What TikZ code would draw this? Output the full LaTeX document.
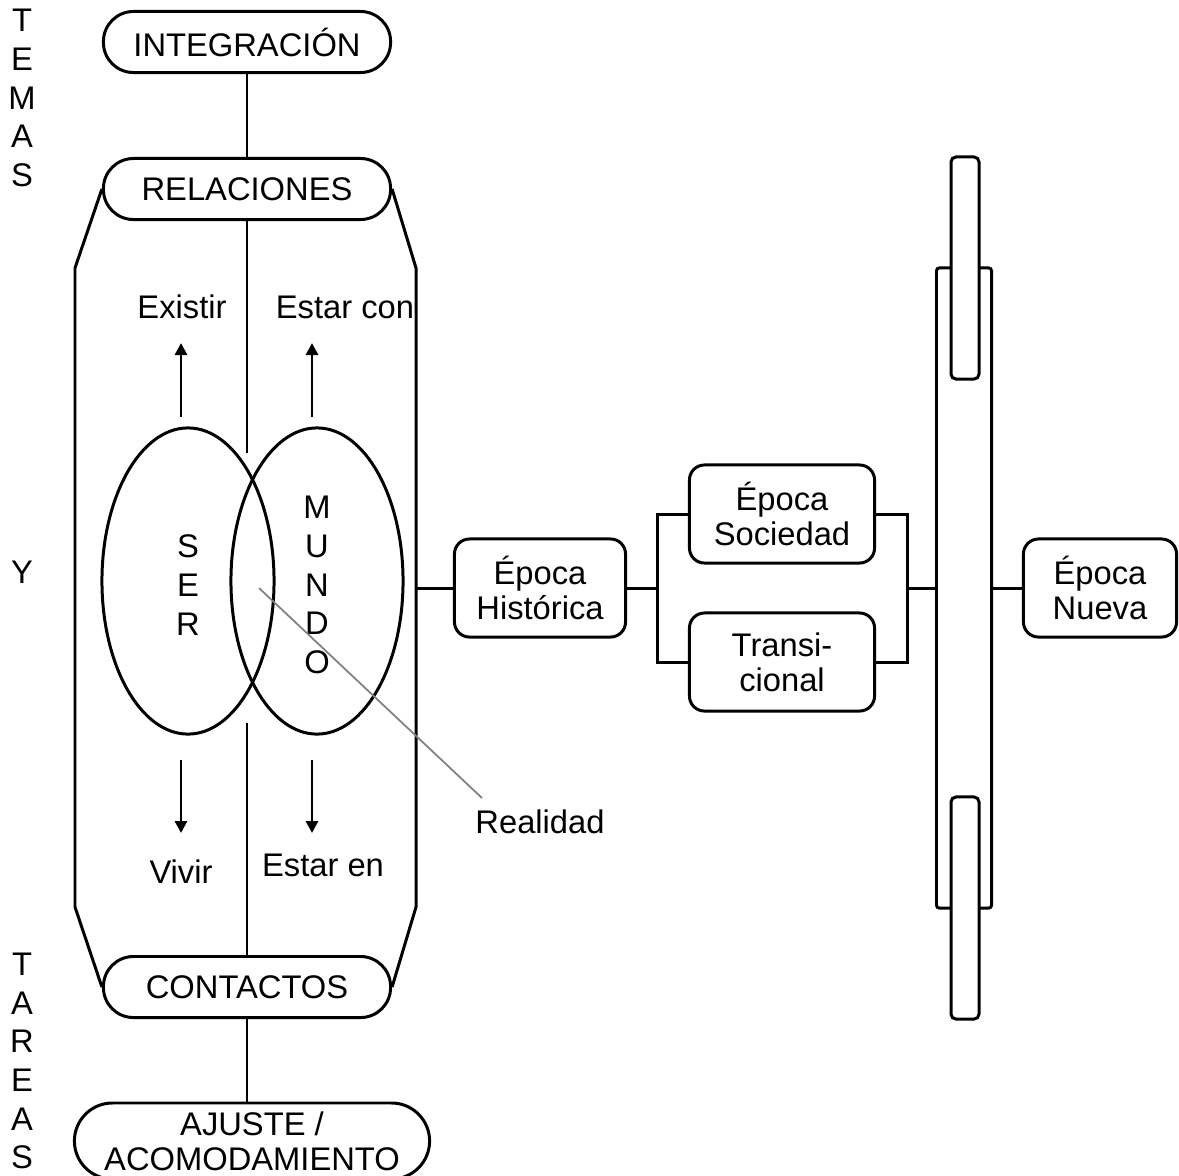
\documentclass[tikz,border=0pt]{standalone}
\usepackage{fontspec}
\setmainfont{Liberation Sans}
\usetikzlibrary{calc,arrows.meta}

\begin{document}
\begin{tikzpicture}[x=0.01cm, y=-0.01cm,
  linea/.style={line width=\lineWidth pt},
  pastilla/.style={draw, line width=\lineWidth pt, rounded corners=0.3cm, minimum width=2.87cm, minimum height=0.61cm, inner sep=0pt, align=center, font=\texto},
  epoca/.style={draw, line width=\lineWidth pt, rounded corners=0.15cm, minimum width=1.72cm, minimum height=0.98cm, inner sep=0pt, align=center, font=\textoepoca},
  barra/.style={draw, fill=white, line width=\lineWidth pt, rounded corners=0.05cm, inner sep=0pt},
  letras/.style={align=center, inner sep=0pt, font=\letras},
  etiqueta/.style={inner sep=0pt, font=\texto},
  flecha/.style={line width=\lineWidth pt, -{Triangle[length=0.12cm, width=0.12cm]}}]


\def\lineWidth{0.85}
\def\texto{\fontsize{9.3}{10}\selectfont}
\def\textoepoca{\fontsize{9.3}{10}\selectfont}
\def\letras{\fontsize{9.3}{11}\selectfont}

\useasboundingbox (0,0) rectangle (1179,1175);
\clip (0,0) rectangle (1179,1175);

\coordinate (centro-arriba) at (247,453);
\coordinate (centro-abajo) at (247,723);

\coordinate (hex-arriba-izq) at (75,268);
\coordinate (hex-abajo-izq) at (75,907);
\coordinate (hex-arriba-der) at (416,268);
\coordinate (hex-abajo-der) at (416,907);
\coordinate (hex-medio) at (416,588);

\coordinate (ser-centro) at (188,581);
\coordinate (mundo-centro) at (317,581);

\coordinate (flecha-ser-arriba) at (181,417);
\coordinate (flecha-ser-arriba-fin) at (181,343);
\coordinate (flecha-mundo-arriba) at (312,417);
\coordinate (flecha-mundo-arriba-fin) at (312,343);
\coordinate (flecha-ser-abajo) at (181,760);
\coordinate (flecha-ser-abajo-fin) at (181,833);
\coordinate (flecha-mundo-abajo) at (312,760);
\coordinate (flecha-mundo-abajo-fin) at (312,833);

\coordinate (realidad-punto) at (259,588);
\coordinate (realidad-fin) at (482,798);

\coordinate (corchete-izq) at (657,588);
\coordinate (corchete-der) at (907,588);


%DRAW

\node[letras] (temas) at (22,98) {T\\E\\M\\A\\S};
\node[letras] (y) at (22,572) {Y};
\node[letras] (tareas) at (22,1061) {T\\A\\R\\E\\A\\S};

\node[pastilla] (integracion) at (247,42) {INTEGRACIÓN};
\node[pastilla] (relaciones) at (247,189) {RELACIONES};
\node[pastilla] (contactos) at (247,987) {CONTACTOS};
\node[pastilla, minimum width=3.55cm, minimum height=0.76cm, rounded corners=0.38cm] (ajuste) at (252,1141) {AJUSTE /\\ACOMODAMIENTO};

\draw[linea] (integracion.south) -- (relaciones.north);
\draw[linea] (relaciones.south) -- (centro-arriba);
\draw[linea] (centro-abajo) -- (contactos.north);
\draw[linea] (contactos.south) -- (contactos.south |- ajuste.north);

\draw[linea] (relaciones.west) -- (hex-arriba-izq) -- (hex-abajo-izq) -- (contactos.west);
\draw[linea] (relaciones.east) -- (hex-arriba-der) -- (hex-abajo-der) -- (contactos.east);

\draw[linea] (ser-centro) ellipse (0.86cm and 1.53cm);
\draw[linea] (mundo-centro) ellipse (0.86cm and 1.53cm);
\node[letras] (ser) at (188,585) {S\\E\\R};
\node[letras] (mundo) at (317,585) {M\\U\\N\\D\\O};

\node[etiqueta] (existir) at (182,307) {Existir};
\node[etiqueta] (estar-con) at (345,307) {Estar con};
\node[etiqueta] (vivir) at (181,872) {Vivir};
\node[etiqueta] (estar-en) at (323,865) {Estar en};
\draw[flecha] (flecha-ser-arriba) -- (flecha-ser-arriba-fin);
\draw[flecha] (flecha-mundo-arriba) -- (flecha-mundo-arriba-fin);
\draw[flecha] (flecha-ser-abajo) -- (flecha-ser-abajo-fin);
\draw[flecha] (flecha-mundo-abajo) -- (flecha-mundo-abajo-fin);

\node[etiqueta] (realidad) at (540,822) {Realidad};
\draw[line width=0.5pt, gray] (realidad-punto) -- (realidad-fin);

\node[epoca, minimum width=1.71cm] (historica) at (540,588) {Época\\Histórica};
\node[epoca, minimum width=1.85cm] (sociedad) at (782,514) {Época\\Sociedad};
\node[epoca, minimum width=1.85cm] (transicional) at (782,662) {Transi-\\cional};
\node[epoca, minimum width=1.53cm] (nueva) at (1100,588) {Época\\Nueva};

\draw[linea] (hex-medio) -- (historica.west);
\draw[linea] (historica.east) -- (corchete-izq);
\draw[linea] (sociedad.west) -| (corchete-izq) |- (transicional.west);
\draw[linea] (sociedad.east) -| (corchete-der) |- (transicional.east);

\node[barra, rounded corners=0.03cm, minimum width=0.55cm, minimum height=6.4cm] (barra) at (964,588) {};
\node[barra, minimum width=0.28cm, minimum height=2.22cm] (barra-arriba) at (965,268) {};
\node[barra, minimum width=0.28cm, minimum height=2.22cm] (barra-abajo) at (965,908) {};

\draw[linea] (corchete-der) -- (barra.west);
\draw[linea] (barra.east) -- (nueva.west);


\end{tikzpicture}
\end{document}
